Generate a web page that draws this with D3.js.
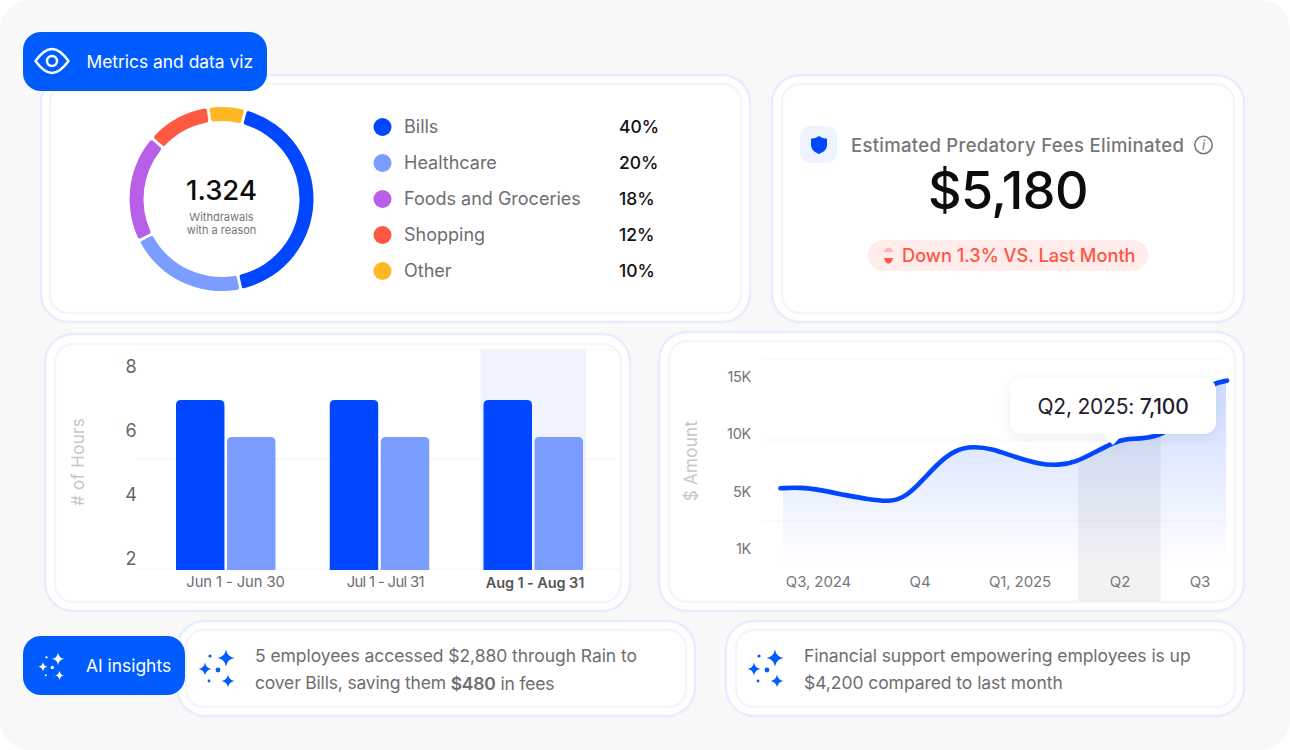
<!DOCTYPE html>
<html>
<head>
<meta charset="utf-8">
<script src="https://cdn.jsdelivr.net/npm/d3@7"></script>
<style>
	html, body { margin: 0; padding: 0; background: #fff; }
	svg { display: block; }
	text { font-family: Inter, "Noto Sans", sans-serif; }
</style>
</head>
<body>
<svg id="chart" width="1290" height="750"></svg>
<script>
// donut + legend
const categories = ["Bills", "Healthcare", "Foods and Groceries", "Shopping", "Other"]
const percentLabels = ["40%", "20%", "18%", "12%", "10%"]
const arcShares = [42, 20.7, 18.7, 11.1, 6.5]
const categoryColors = ["#0047ff", "#7a9dff", "#b75fe6", "#ff5843", "#ffb824"]

// bar chart
const barPeriods = ["Jun 1 - Jun 30", "Jul 1 - Jul 31", "Aug 1 - Aug 31"]
const barSeries = ["first", "second"]
const firstHours = [6.94, 6.94, 6.94]
const secondHours = [5.78, 5.78, 5.78]
const hourTicks = [2, 4, 6, 8]
const hourGrid = [1.65, 5.09, 8.5]

// line chart
const quarterLabels = ["Q3, 2024", "Q4", "Q1, 2025", "Q2", "Q3"]
const linePos = [-0.375, -0.184, 0.025, 0.257, 0.487, 0.698, 0.833, 0.985, 1.18, 1.354, 1.53, 1.724, 1.958, 2.19, 2.386, 2.56, 2.736, 2.93, 3.059, 3.3, 3.545, 3.81, 4, 4.15, 4.3375]
const lineValues = [5235, 5320, 5087, 4720, 4417, 4250, 4490, 5520, 7410, 8565, 8850, 8650, 7900, 7320, 7200, 7500, 8280, 9150, 9500, 9500, 9890, 11300, 13300, 14360, 14590]
const amountTicks = [1000, 5000, 10000, 15000]
const amountTickLabels = ["1K", "5K", "10K", "15K"]

const svg = d3.select("#chart")
const defs = svg.append("defs")

const BLUE = "#0047ff"
const PILL = "#005cff"
const GREY = "#6e6e6e"

svg.append("rect").attr("width", 1290).attr("height", 750).attr("rx", 30).attr("fill", "#f8f8f8")

const addText = function (parent, x, y, str, size, color, opts) {
	opts = opts || {}
	return parent.append("text")
		.attr("x", x).attr("y", y)
		.attr("font-size", size)
		.attr("fill", color)
		.attr("font-weight", opts.weight || 400)
		.attr("letter-spacing", opts.spacing || 0)
		.attr("text-anchor", opts.anchor || "start")
		.attr("dominant-baseline", "central")
		.text(str)
}

const card = function (x0, y0, x1, y1, ix0, iy0, ix1, iy1) {
	svg.append("rect").attr("x", x0).attr("y", y0).attr("width", x1 - x0).attr("height", y1 - y0)
		.attr("rx", 28).attr("fill", "#fff").attr("stroke", "#e6edff").attr("stroke-width", 2.4)
	svg.append("rect").attr("x", ix0).attr("y", iy0).attr("width", ix1 - ix0).attr("height", iy1 - iy0)
		.attr("rx", 18).attr("fill", "#fff").attr("stroke", "#f5f5f8").attr("stroke-width", 2.4)
}

card(41, 75, 750, 322, 50, 84, 741, 313)
card(772, 75, 1244, 322, 782, 84, 1234, 313)
card(45, 334, 630, 611, 55, 344, 621, 602)
card(659, 332, 1244, 611, 669, 341, 1235, 602)
card(177, 621, 695, 716, 186, 630, 686, 707)
card(726, 621, 1244, 716, 736, 630, 1235, 707)

// ---- donut
const donut = svg.append("g").attr("transform", "translate(221.5,199)")
const pie = d3.pie().sort(null).startAngle(0.265).endAngle(0.265 + 2 * Math.PI)
const arc = d3.arc().innerRadius(78).outerRadius(92).cornerRadius(2).padAngle(0.024)
donut.selectAll("path").data(pie(arcShares)).join("path")
	.attr("d", arc)
	.attr("fill", (d, i) => categoryColors[i])
addText(donut, 0, -9, "1.324", 27.5, "#0c0c0c", {anchor: "middle", weight: 500})
addText(donut, 0, 18, "Withdrawals", 11, "#767676", {anchor: "middle"})
addText(donut, 0, 30.5, "with a reason", 11, "#767676", {anchor: "middle"})

// legend
const legendY = d3.scalePoint().domain(categories).range([126.5, 270.5])
categories.forEach(function (c, i) {
	svg.append("circle").attr("cx", 382.5).attr("cy", legendY(c) + 0.5).attr("r", 9).attr("fill", categoryColors[i])
	addText(svg, 404, legendY(c), c, 18, GREY)
	addText(svg, 619, legendY(c), percentLabels[i], 17.5, "#111", {weight: 500})
})

// ---- metric card
svg.append("rect").attr("x", 800).attr("y", 126).attr("width", 37).attr("height", 37).attr("rx", 10).attr("fill", "#edf3ff")
svg.append("path").attr("transform", "translate(819,145)")
	.attr("d", "M0,-9 C3,-7 5,-6.5 8,-6.5 L8,0 C8,4.5 4,7.5 0,9 C-4,7.5 -8,4.5 -8,0 L-8,-6.5 C-5,-6.5 -3,-7 0,-9 Z")
	.attr("fill", BLUE)
addText(svg, 851, 145, "Estimated Predatory Fees Eliminated", 18.5, "#777", {weight: 500, spacing: 0.3})
svg.append("circle").attr("cx", 1203.5).attr("cy", 145).attr("r", 8.7).attr("fill", "none").attr("stroke", "#777").attr("stroke-width", 1.5)
addText(svg, 1203.5, 145, "i", 13, "#777", {anchor: "middle"}).attr("font-style", "italic").attr("font-family", "Liberation Serif")
addText(svg, 1008, 190, "$5,180", 52, "#0c0c0c", {anchor: "middle", weight: 500, spacing: -0.6})
svg.append("rect").attr("x", 868).attr("y", 240).attr("width", 280).attr("height", 31).attr("rx", 15.5).attr("fill", "#ffeceb")
svg.append("path").attr("d", "M884,252 C885,249 886,247.5 888.5,247.5 C891,247.5 892,249 893,252 Z").attr("fill", "#ffb9b1")
svg.append("path").attr("d", "M884,258 L893,258 C892,261 891,263.5 888.5,263.5 C886,263.5 885,261 884,258 Z").attr("fill", "#ff5543")
addText(svg, 902, 255, "Down 1.3% VS. Last Month", 18.2, "#ff5543", {weight: 500})

// ---- bar chart
const hourY = d3.scaleLinear().domain([1.625, 8]).range([570, 366])
const groupX = d3.scaleBand().domain(barPeriods).range([176, 583]).paddingInner(0.353).paddingOuter(0).align(0)
const seriesX = d3.scaleBand().domain(barSeries).range([0, groupX.bandwidth()]).paddingInner(0.05).paddingOuter(0)
const labelX = d3.scalePoint().domain(barPeriods).range([235.5, 535])

svg.append("rect")
	.attr("x", groupX(barPeriods[2]) - 3).attr("y", 349)
	.attr("width", groupX.bandwidth() + 6).attr("height", hourY(1.625) - 349)
	.attr("fill", "#f0f3fd")

const barGrid = svg.append("g")
barGrid.selectAll("line").data(hourGrid).join("line")
	.attr("x1", 136).attr("x2", 620)
	.attr("y1", d => hourY(d)).attr("y2", d => hourY(d))
	.attr("stroke", "#f5f5f7").attr("stroke-width", 1.2)

const topRounded = function (x, y, w, h, r) {
	const p = d3.path()
	p.moveTo(x, y + h)
	p.lineTo(x, y + r)
	p.quadraticCurveTo(x, y, x + r, y)
	p.lineTo(x + w - r, y)
	p.quadraticCurveTo(x + w, y, x + w, y + r)
	p.lineTo(x + w, y + h)
	p.closePath()
	return p.toString()
}

const drawBars = function (values, name, color) {
	svg.append("g").selectAll("path").data(values).join("path")
		.attr("d", (d, i) => topRounded(groupX(barPeriods[i]) + seriesX(name), hourY(d), seriesX.bandwidth(), hourY(1.625) - hourY(d), 5))
		.attr("fill", color)
}
drawBars(firstHours, "first", BLUE)
drawBars(secondHours, "second", "#7a9dff")

hourTicks.forEach(function (t) {
	addText(svg, 131, hourY(t), t, 18, "#666", {anchor: "middle"})
})
barPeriods.forEach(function (p, i) {
	addText(svg, labelX(p), 582, p, i == 2 ? 14.5 : 14.8, i == 2 ? "#555" : "#6e6e6e", {anchor: "middle", weight: i == 2 ? 600 : 400, spacing: i == 1 ? -0.65 : -0.1})
})
addText(svg, 0, 0, "# of Hours", 17, "#c6c6c6", {anchor: "middle", spacing: 0.3})
	.attr("transform", "translate(78,462) rotate(-90)")

// ---- line chart
const quarterX = d3.scaleLinear().domain([0, 1, 2, 3, 4]).range([818.5, 920, 1020, 1120, 1200])
const amountY = d3.scaleLinear().domain(amountTicks).range([548, 491, 433, 376])
const linePoints = linePos.map((q, i) => ({q: q, v: lineValues[i]}))

const grad = defs.append("linearGradient").attr("id", "areaFill")
	.attr("gradientUnits", "userSpaceOnUse").attr("x1", 0).attr("x2", 0).attr("y1", 380).attr("y2", 565)
grad.append("stop").attr("offset", 0).attr("stop-color", BLUE).attr("stop-opacity", 0.2)
grad.append("stop").attr("offset", 1).attr("stop-color", BLUE).attr("stop-opacity", 0)

defs.append("clipPath").attr("id", "q2clip").append("rect")
	.attr("x", quarterX(2.58)).attr("y", 340)
	.attr("width", quarterX(3.51) - quarterX(2.58)).attr("height", 261)
defs.append("clipPath").attr("id", "areaClip").append("rect")
	.attr("x", 783).attr("y", 340).attr("width", 443).attr("height", 261)

const lineGrid = svg.append("g")
lineGrid.selectAll("line").data([359, 440, 521, 601]).join("line")
	.attr("x1", 763).attr("x2", 1222)
	.attr("y1", d => d).attr("y2", d => d)
	.attr("stroke", "#f5f5f7").attr("stroke-width", 1.2)

const area = d3.area().curve(d3.curveBasis)
	.x(d => quarterX(d.q)).y1(d => amountY(d.v)).y0(601)
const line = d3.line().curve(d3.curveBasis)
	.x(d => quarterX(d.q)).y(d => amountY(d.v))

svg.append("path").datum(linePoints).attr("d", area).attr("fill", "url(#areaFill)").attr("clip-path", "url(#areaClip)")
svg.append("path").datum(linePoints).attr("d", area).attr("fill", "#000").attr("fill-opacity", 0.05).attr("clip-path", "url(#q2clip)")
svg.append("path").datum(linePoints).attr("d", line).attr("fill", "none").attr("stroke", BLUE)
	.attr("stroke-width", 4.6).attr("stroke-linecap", "round")

amountTicks.forEach(function (t, i) {
	addText(svg, 751, amountY(t), amountTickLabels[i], 14.5, "#757575", {anchor: "end", spacing: -0.3})
})
quarterLabels.forEach(function (q, i) {
	addText(svg, quarterX(i), 581, q, 15, "#787878", {anchor: "middle", spacing: -0.1})
})
addText(svg, 0, 0, "$ Amount", 17, "#c6c6c6", {anchor: "middle", spacing: 0.3})
	.attr("transform", "translate(691,461) rotate(-90)")

// tooltip
const shadow = defs.append("filter").attr("id", "tipShadow").attr("x", "-20%").attr("y", "-40%").attr("width", "140%").attr("height", "180%")
shadow.append("feDropShadow").attr("dx", 0).attr("dy", 3).attr("stdDeviation", 6).attr("flood-color", "#1a2a66").attr("flood-opacity", 0.08)
const tip = svg.append("g").attr("filter", "url(#tipShadow)")
tip.append("rect").attr("x", 1010).attr("y", 378).attr("width", 206).attr("height", 56).attr("rx", 12).attr("fill", "#fff")
tip.append("path").attr("d", "M1101,433 L1124,433 L1113,445 Z").attr("fill", "#fff")
const tipText = addText(svg, 1113, 406, "Q2, 2025: ", 21, "#1e2030", {anchor: "middle", spacing: -0.2})
tipText.append("tspan").attr("font-weight", 500).text("7,100")

// ---- insights
const sparkle = function (g, cx, cy, r, color) {
	const c = r * 0.14
	g.append("path").attr("transform", `translate(${cx},${cy})`)
		.attr("d", `M0,${-r} Q${c},${-c} ${r},0 Q${c},${c} 0,${r} Q${-c},${c} ${-r},0 Q${-c},${-c} 0,${-r} Z`)
		.attr("fill", color)
}
const sparkles = function (dx, dy, scale, color) {
	const g = svg.append("g").attr("transform", `translate(${dx},${dy}) scale(${scale})`)
	sparkle(g, 7, -10, 8.5, color)
	sparkle(g, -14, 1, 6.5, color)
	sparkle(g, 9, 13, 6.5, color)
	g.append("circle").attr("cx", -9).attr("cy", -12).attr("r", 1.6).attr("fill", color)
	g.append("circle").attr("cx", -1).attr("cy", 2).attr("r", 2.4).attr("fill", color)
	g.append("circle").attr("cx", -10).attr("cy", 13).attr("r", 1.4).attr("fill", color)
}
sparkles(219, 668, 1, PILL)
sparkles(768, 668, 1, PILL)

const line1 = addText(svg, 255, 655.5, "5 employees accessed $2,880 through Rain to", 17.5, GREY, {spacing: -0.06})
const line2 = addText(svg, 255, 682.5, "cover Bills, saving them ", 17.5, GREY, {spacing: -0.18})
line2.append("tspan").attr("font-weight", 600).text("$480")
line2.append("tspan").text(" in fees")
addText(svg, 804, 655.5, "Financial support empowering employees is up", 17.5, GREY, {spacing: -0.06})
addText(svg, 804, 682.5, "$4,200 compared to last month", 17.5, GREY, {spacing: -0.06})

// ---- pills on top of the cards
const pill = function (x, y, w, h, label, tx) {
	svg.append("rect").attr("x", x).attr("y", y).attr("width", w).attr("height", h).attr("rx", 18).attr("fill", PILL)
	addText(svg, tx, y + h / 2, label, 17.4, "#fff")
}
pill(23, 32, 244, 59, "Metrics and data viz", 86.5)
pill(23, 636, 162, 59, "AI insights", 86)

const eye = svg.append("g").attr("transform", "translate(52,61)").attr("fill", "none").attr("stroke", "#fff").attr("stroke-width", 2.5)
eye.append("path").attr("d", "M-16.5,0 C-10,-9 -5,-12 0,-12 C5,-12 10,-9 16.5,0 C10,9 5,12 0,12 C-5,12 -10,9 -16.5,0 Z").attr("stroke-linejoin", "round")
eye.append("circle").attr("r", 5)

sparkles(53, 666, 0.72, "#fff")
</script>
</body>
</html>
